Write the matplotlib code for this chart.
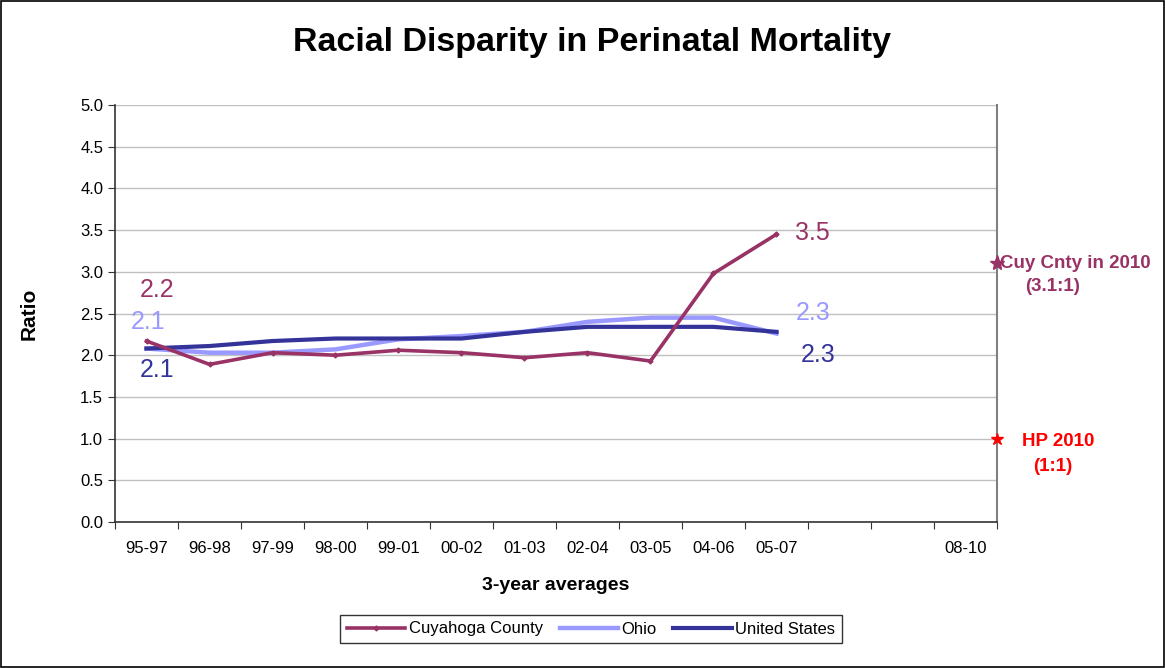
import matplotlib
matplotlib.use("Agg")
import matplotlib.pyplot as plt
from matplotlib.patches import Rectangle

plt.rcParams['font.family'] = ['Liberation Sans', 'DejaVu Sans']

periods = ["95-97", "96-98", "97-99", "98-00", "99-01", "00-02", "01-03",
           "02-04", "03-05", "04-06", "05-07", "06-08", "07-09", "08-10"]
tick_labels = ["95-97", "96-98", "97-99", "98-00", "99-01", "00-02", "01-03",
               "02-04", "03-05", "04-06", "05-07", "", "", "08-10"]

cuyahoga = [2.17, 1.89, 2.03, 2.00, 2.06, 2.03, 1.97, 2.03, 1.93, 2.98, 3.45]
ohio = [2.08, 2.03, 2.03, 2.07, 2.19, 2.23, 2.28, 2.40, 2.45, 2.45, 2.26]
usa = [2.08, 2.11, 2.17, 2.20, 2.20, 2.20, 2.28, 2.34, 2.34, 2.34, 2.28]

cuy_2010 = 3.1
hp_2010 = 1.0

C_CUY = "#993366"
C_OH = "#9999FF"
C_US = "#333399"

fig = plt.figure(figsize=(11.65, 6.68), dpi=100)
ax = fig.add_axes([115 / 1165, 1 - 522 / 668, 882 / 1165, 417 / 668])

x = list(range(len(cuyahoga)))
ax.plot(x, cuyahoga, color=C_CUY, lw=2.6, marker="D", ms=2.5, label="Cuyahoga County", zorder=4)
ax.plot(x, ohio, color=C_OH, lw=3.2, label="Ohio", zorder=3)
ax.plot(x, usa, color=C_US, lw=3.0, label="United States", zorder=3)

# 2010 targets on right edge
ax.plot([len(periods) - 0.5], [cuy_2010], marker="*", color=C_CUY, ms=11, clip_on=False, zorder=5)
ax.plot([len(periods) - 0.5], [hp_2010], marker="*", color="#FF0000", ms=9, clip_on=False, zorder=5)
ax.text(len(periods) - 0.45, cuy_2010, "Cuy Cnty in 2010", color=C_CUY, fontsize=13.5,
        fontweight="bold", va="center", ha="left", clip_on=False)
ax.text(len(periods) - 0.05, cuy_2010 - 0.28, "(3.1:1)", color=C_CUY, fontsize=13.5,
        fontweight="bold", va="center", ha="left", clip_on=False)
ax.text(len(periods) - 0.1, hp_2010 - 0.03, "HP 2010", color="#FF0000", fontsize=13.5,
        fontweight="bold", va="center", ha="left", clip_on=False)
ax.text(len(periods) + 0.07, hp_2010 - 0.33, "(1:1)", color="#FF0000", fontsize=13.5,
        fontweight="bold", va="center", ha="left", clip_on=False)

# data labels
ax.text(-0.1, 2.78, "2.2", color=C_CUY, fontsize=18, va="center", ha="left")
ax.text(-0.25, 2.4, "2.1", color=C_OH, fontsize=18, va="center", ha="left")
ax.text(-0.1, 1.82, "2.1", color=C_US, fontsize=18, va="center", ha="left")
ax.text(10.3, 3.47, "3.5", color=C_CUY, fontsize=18, va="center", ha="left")
ax.text(10.3, 2.5, "2.3", color=C_OH, fontsize=18, va="center", ha="left")
ax.text(10.38, 2.0, "2.3", color=C_US, fontsize=18, va="center", ha="left")

ax.set_xlim(-0.5, len(periods) - 0.5)
ax.set_ylim(0, 5)
ax.set_yticks([i * 0.5 for i in range(11)])
ax.set_yticklabels([f"{i * 0.5:.1f}" for i in range(11)], fontsize=12)
ax.set_xticks([i - 0.5 for i in range(len(periods) + 1)], minor=False)
ax.set_xticklabels([])
ax.set_xticks(range(len(periods)), minor=True)
ax.set_xticklabels(tick_labels, minor=True, fontsize=12)
ax.tick_params(axis="x", which="minor", length=0, pad=14)
ax.tick_params(axis="x", which="major", length=5, direction="out", color="#333333")
ax.tick_params(axis="y", length=5, direction="out", color="#333333")

ax.grid(axis="y", color="#C0C0C0", lw=1)
ax.set_axisbelow(True)
for s in ["left", "bottom"]:
    ax.spines[s].set_color("#333333")
    ax.spines[s].set_linewidth(1.2)
ax.spines["top"].set_visible(False)
ax.spines["right"].set_color("#808080")
ax.spines["right"].set_linewidth(1.5)

ax.set_xlabel("3-year averages", fontsize=14, fontweight="bold", labelpad=15)
ax.set_ylabel("Ratio", fontsize=15, fontweight="bold", labelpad=30)
fig.text(0.508, 1 - 43 / 668, "Racial Disparity in Perinatal Mortality",
         fontsize=24.5, fontweight="bold", ha="center", va="center")

leg = fig.legend(loc="center", bbox_to_anchor=(591 / 1165, 1 - 629 / 668), ncol=3,
                 fontsize=12, frameon=True, fancybox=False, edgecolor="black",
                 handlelength=3.5, handletextpad=0.2, columnspacing=1.0,
                 borderpad=0.4)
leg.get_frame().set_linewidth(1.0)

fig.patches.append(Rectangle((0.001, 0.001), 0.998, 0.997, transform=fig.transFigure,
                             fill=False, edgecolor="black", lw=1.2))

plt.savefig("out.png", dpi=100)
